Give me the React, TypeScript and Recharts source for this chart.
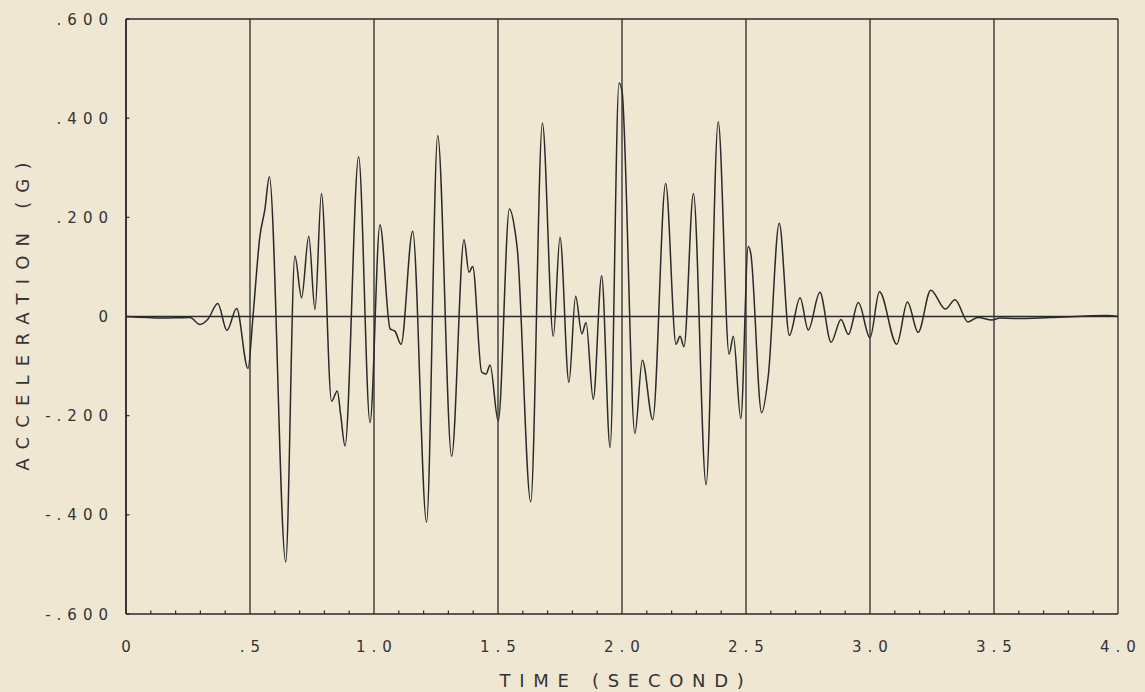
import React from 'react'
import { LineChart, Line, XAxis, YAxis, CartesianGrid, ReferenceLine, Label } from 'recharts'

// values
const TIME = [0, 0.149, 0.258, 0.298, 0.331, 0.370, 0.407, 0.446, 0.492, 0.512, 0.540, 0.560, 0.578, 0.644, 0.681, 0.708, 0.737, 0.762, 0.788, 0.829, 0.852, 0.866, 0.883, 0.938, 0.984, 1.024, 1.065, 1.085, 1.109, 1.156, 1.212, 1.257, 1.313, 1.363, 1.383, 1.398, 1.434, 1.452, 1.468, 1.501, 1.546, 1.569, 1.578, 1.632, 1.679, 1.723, 1.750, 1.786, 1.813, 1.838, 1.855, 1.884, 1.918, 1.952, 1.988, 2.000, 2.052, 2.082, 2.124, 2.176, 2.218, 2.234, 2.250, 2.288, 2.339, 2.388, 2.432, 2.449, 2.479, 2.509, 2.519, 2.563, 2.590, 2.634, 2.675, 2.718, 2.751, 2.798, 2.843, 2.883, 2.913, 2.953, 3.000, 3.038, 3.108, 3.151, 3.194, 3.245, 3.304, 3.343, 3.395, 3.435, 3.492, 3.524, 3.593, 3.726, 3.956, 4.0]
const ACCEL = [0, -0.003, -0.002, -0.016, -0.005, 0.026, -0.028, 0.016, -0.105, 0.0, 0.162, 0.216, 0.282, -0.495, 0.122, 0.038, 0.162, 0.014, 0.248, -0.171, -0.150, -0.200, -0.261, 0.322, -0.214, 0.185, -0.025, -0.030, -0.056, 0.172, -0.415, 0.365, -0.282, 0.155, 0.089, 0.101, -0.112, -0.116, -0.098, -0.211, 0.217, 0.171, 0.135, -0.374, 0.390, -0.040, 0.160, -0.133, 0.041, -0.035, -0.012, -0.167, 0.082, -0.264, 0.471, 0.455, -0.236, -0.088, -0.208, 0.268, -0.056, -0.040, -0.061, 0.248, -0.339, 0.393, -0.076, -0.040, -0.206, 0.141, 0.128, -0.194, -0.119, 0.188, -0.038, 0.038, -0.027, 0.049, -0.052, -0.006, -0.036, 0.028, -0.043, 0.050, -0.056, 0.029, -0.032, 0.053, 0.015, 0.034, -0.011, -0.002, -0.007, -0.003, -0.004, -0.002, 0.002, 0]

const X_TICKS = [0, 0.5, 1.0, 1.5, 2.0, 2.5, 3.0, 3.5, 4.0]
const X_LABELS = ['0', '.5', '1.0', '1.5', '2.0', '2.5', '3.0', '3.5', '4.0']
const X_MINOR = [0.1, 0.2, 0.3, 0.4, 0.6, 0.7, 0.8, 0.9, 1.1, 1.2, 1.3, 1.4, 1.6, 1.7, 1.8, 1.9, 2.1, 2.2, 2.3, 2.4, 2.6, 2.7, 2.8, 2.9, 3.1, 3.2, 3.3, 3.4, 3.6, 3.7, 3.8, 3.9]
const Y_TICKS = [-0.6, -0.4, -0.2, 0, 0.2, 0.4, 0.6]
const Y_LABELS = ['-.600', '-.400', '-.200', '0', '.200', '.400', '.600']

const data = TIME.map((t, i) => ({ t, a: ACCEL[i] }))

const INK = '#2a2a2a'
const FONT = 'DejaVu Sans'
const LS = 6

const XTick = (p: any) => {
  const i = X_TICKS.indexOf(p.payload.value)
  return (
    <text x={p.x + LS / 2} y={p.y + 38} textAnchor="middle" fontFamily={FONT} fontSize={15} fill="#333" letterSpacing={LS}>
      {X_LABELS[i]}
    </text>
  )
}

const YTick = (p: any) => {
  const i = Y_TICKS.indexOf(p.payload.value)
  return (
    <text x={p.x - 12} y={p.y + 5.5} textAnchor="end" fontFamily={FONT} fontSize={15} fill="#333" letterSpacing={LS}>
      {Y_LABELS[i]}
    </text>
  )
}

const xTitle = ({ viewBox }: any) => {
  const cx = viewBox.x + viewBox.width / 2
  return (
    <text x={cx + 4} y={viewBox.y + 73} textAnchor="middle" fontFamily={FONT} fontSize={18} fill="#333" letterSpacing={8.7}>
      TIME (SECOND)
    </text>
  )
}

const yTitle = ({ viewBox }: any) => {
  const cx = viewBox.x + 22
  const cy = viewBox.y + viewBox.height / 2
  return (
    <text x={cx + 4.5} y={cy} transform={`rotate(-90 ${cx} ${cy})`} textAnchor="middle" dominantBaseline="central"
      fontFamily={FONT} fontSize={18} fill="#333" letterSpacing={9.2}>
      ACCELERATION (G)
    </text>
  )
}

export default function App() {
  return (
    <div style={{ position: 'absolute', left: 0, top: 0, width: 1145, height: 692, background: '#efe7d2' }}>
      <LineChart width={1145} height={692} data={data} margin={{ top: 19, right: 27, bottom: 0, left: 0 }}>
        <CartesianGrid horizontal={false} stroke={INK} strokeWidth={1.3} />
        <XAxis dataKey="t" type="number" domain={[0, 4]} ticks={X_TICKS} height={78}
          tickSize={0} tickMargin={0} tickLine={false} tick={XTick}
          axisLine={{ stroke: INK, strokeWidth: 1.6 }} allowDataOverflow>
          <Label content={xTitle} />
        </XAxis>
        <YAxis type="number" domain={[-0.6, 0.6]} ticks={Y_TICKS} width={126}
          tickSize={0} tickMargin={0} tickLine={false} tick={YTick}
          axisLine={{ stroke: INK, strokeWidth: 1.6 }} allowDataOverflow>
          <Label content={yTitle} />
        </YAxis>
        <ReferenceLine y={0.6} stroke={INK} strokeWidth={1.6} />
        <ReferenceLine y={0} stroke={INK} strokeWidth={1.3} />
        {X_MINOR.map((v) => (
          <ReferenceLine key={'xm' + v} segment={[{ x: v, y: -0.6 }, { x: v, y: -0.593 }]} stroke={INK} strokeWidth={1.2} />
        ))}
        {Y_TICKS.map((v) => (
          <ReferenceLine key={'ym' + v} segment={[{ x: 0, y: v }, { x: 0.014, y: v }]} stroke={INK} strokeWidth={1.2} />
        ))}
        <Line type="monotone" dataKey="a" stroke={INK} strokeWidth={1.5} dot={false} isAnimationActive={false} />
      </LineChart>
    </div>
  )
}
